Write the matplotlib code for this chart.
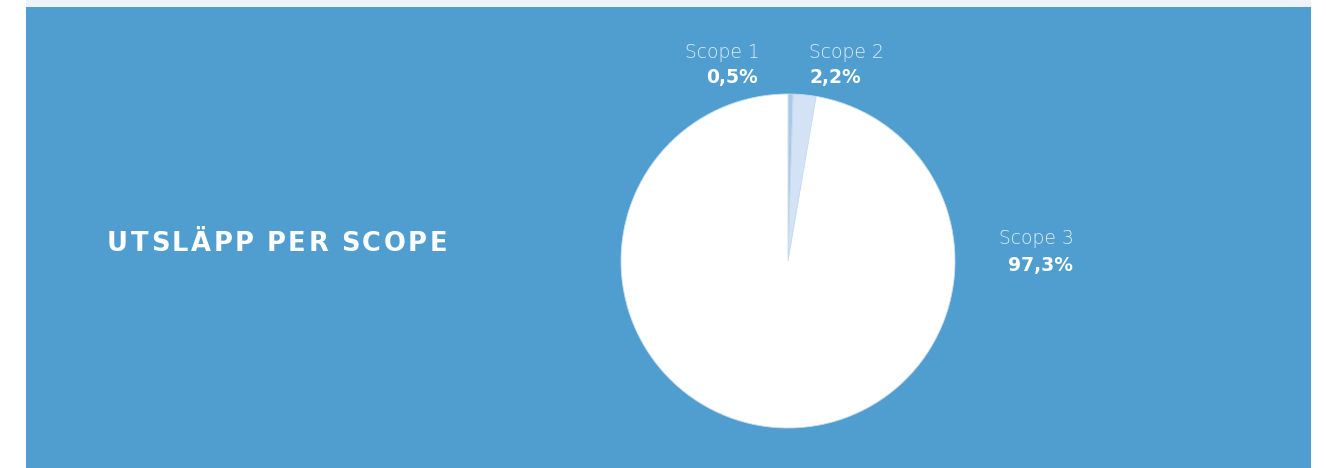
import matplotlib
matplotlib.use("Agg")
import matplotlib.pyplot as plt
import matplotlib.patches as patches

# data
labels = ["Scope 1", "Scope 2", "Scope 3"]
shares = [0.5, 2.2, 97.3]
pct_text = ["0,5%", "2,2%", "97,3%"]
slice_colors = ["#a9c9e9", "#d3e2f4", "#ffffff"]

title = "UTSLÄPP PER SCOPE"
bg_blue = "#4f9ecf"

W, H = 1326, 468
fig = plt.figure(figsize=(W / 100, H / 100), dpi=100)
fig.patch.set_facecolor("white")

# background panel and thin top strip
fig.add_artist(patches.Rectangle((26 / W, 0), (1311 - 26) / W, 461 / H,
                                 transform=fig.transFigure, facecolor=bg_blue,
                                 edgecolor="none", zorder=-5))
fig.add_artist(patches.Rectangle((26 / W, 461 / H), (1311 - 26) / W, 7 / H,
                                 transform=fig.transFigure, facecolor="#eef2fb",
                                 edgecolor="none", zorder=-5))

# pie
cx, cy, r = 788, 261, 167
ax = fig.add_axes([(cx - r) / W, (H - cy - r) / H, 2 * r / W, 2 * r / H])
ax.pie(shares, colors=slice_colors, startangle=90, counterclock=False,
       wedgeprops=dict(linewidth=0.6, edgecolor="#c9dcef"))
ax.set_xlim(-1, 1)
ax.set_ylim(-1, 1)
ax.set_aspect("equal")
ax.axis("off")


def fx(px):
    return px / W


def fy(py):
    return 1 - py / H


light = "#e3eef8"
fam = ["DejaVu Sans"]
fs = 13.5

# slice labels
fig.text(fx(760), fy(52), labels[0], color=light, fontsize=fs, family=fam,
         fontweight="light", ha="right", va="center")
fig.text(fx(758), fy(78), pct_text[0], color="white", fontsize=fs, family=fam,
         fontweight="bold", ha="right", va="center")
fig.text(fx(809), fy(52), labels[1], color=light, fontsize=fs, family=fam,
         fontweight="light", ha="left", va="center")
fig.text(fx(809), fy(78), pct_text[1], color="white", fontsize=fs, family=fam,
         fontweight="bold", ha="left", va="center")
fig.text(fx(1074), fy(238), labels[2], color=light, fontsize=fs, family=fam,
         fontweight="light", ha="right", va="center")
fig.text(fx(1073), fy(265), pct_text[2], color="white", fontsize=fs, family=fam,
         fontweight="bold", ha="right", va="center")

# title, letter-spaced by hand
renderer = fig.canvas.get_renderer()
x = 107
spacing = 2.6
for ch in title:
    if ch == " ":
        x += 10
        continue
    t = fig.text(fx(x), fy(244), ch, color="white", fontsize=18.5, family=fam,
                 fontweight="bold", ha="left", va="center")
    x += t.get_window_extent(renderer).width + spacing

fig.savefig("out.png", dpi=100, facecolor=fig.get_facecolor())
